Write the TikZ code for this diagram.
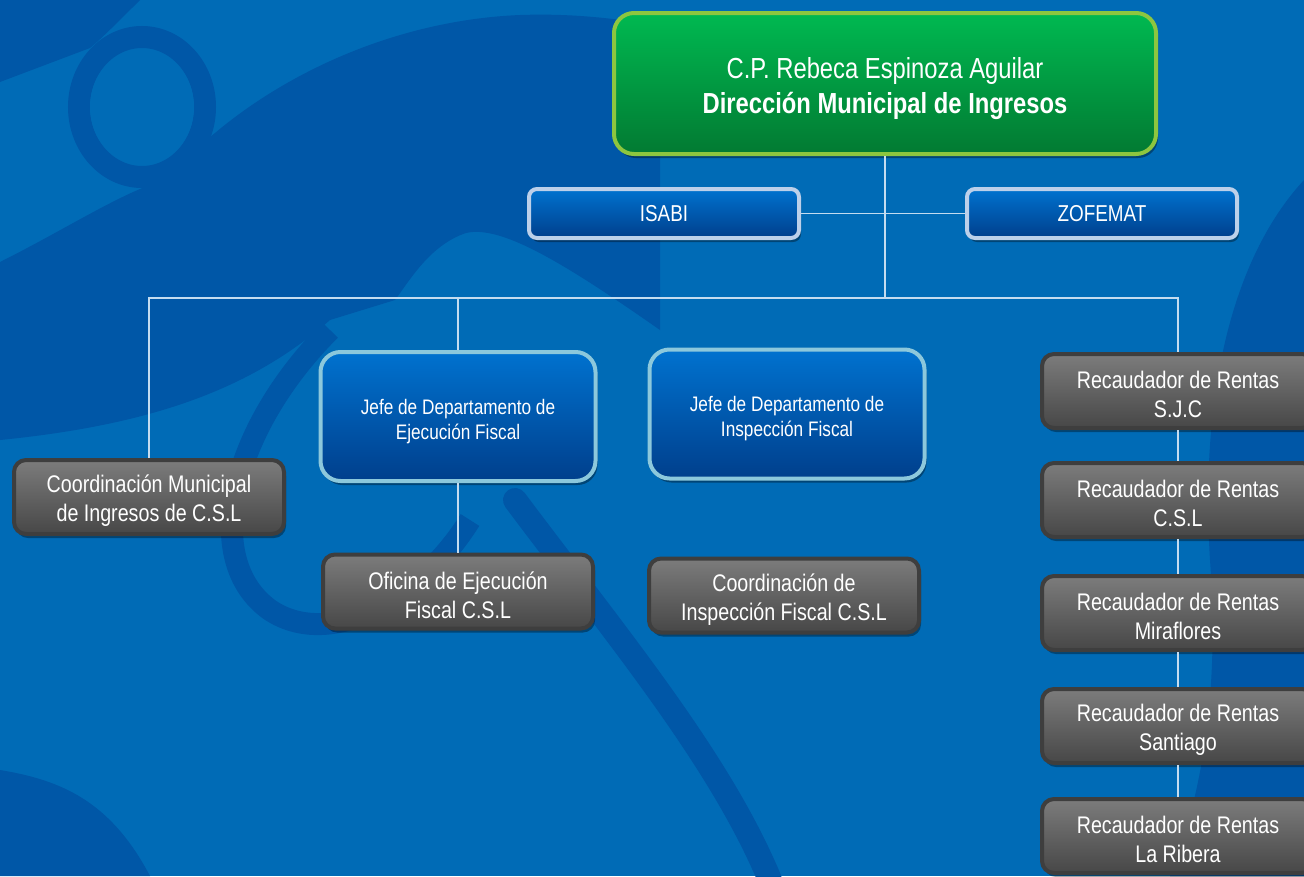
\documentclass[tikz,border=0pt]{standalone}
\usepackage{fontspec}
\setmainfont{Liberation Sans}[FakeStretch=0.82]
\usetikzlibrary{positioning}
\usetikzlibrary{shadows}

\definecolor{bgDark}{HTML}{0057A7}
\definecolor{bgLight}{HTML}{006BB6}
\definecolor{lineBlue}{HTML}{C4DCF0}
\definecolor{greenTop}{HTML}{00B951}
\definecolor{greenBot}{HTML}{027A32}
\definecolor{limeEdge}{HTML}{8DC63F}
\definecolor{blueTop}{HTML}{0072CF}
\definecolor{blueBot}{HTML}{003F8C}
\definecolor{staffEdge}{HTML}{BCD0EA}
\definecolor{jefeEdge}{HTML}{8CC8DC}
\definecolor{grayTop}{HTML}{7C7C7C}
\definecolor{grayBot}{HTML}{474747}
\definecolor{grayEdge}{HTML}{3E3E3E}

\tikzset{
  boxshadow/.style={drop shadow={shadow xshift=2pt, shadow yshift=-4pt, opacity=0.35, fill=black}},
  dirbox/.style={draw=limeEdge, line width=4pt, rounded corners=20pt,
    top color=greenTop, bottom color=greenBot, boxshadow,
    minimum width=542pt, minimum height=141pt, text=white, align=center,
    text height=66pt, font=\fontsize{29}{35}\selectfont},
  staffbox/.style={draw=staffEdge, line width=4pt, rounded corners=8pt,
    top color=blueTop, bottom color=blueBot, boxshadow,
    minimum width=270pt, minimum height=49pt, text=white, align=center,
    font=\fontsize{23}{28}\selectfont},
  jefebox/.style={draw=jefeEdge, line width=4pt, rounded corners=20pt,
    top color=blueTop, bottom color=blueBot, boxshadow,
    minimum width=275pt, minimum height=129pt, text=white, align=center,
    text height=50pt, font=\fontsize{21}{25}\selectfont},
  unitbox/.style={draw=grayEdge, line width=4pt, rounded corners=12pt,
    top color=grayTop, bottom color=grayBot, boxshadow,
    minimum width=270pt, minimum height=74pt, text=white, align=center,
    text height=54pt, font=\fontsize{24}{29}\selectfont},
  conn/.style={draw=lineBlue, line width=1.5pt}
}

\begin{document}
\begin{tikzpicture}[x=1pt,y=-1pt]
\path[use as bounding box] (0,0) rectangle (1304,876);
\clip (0,0) rectangle (1304,876);

% background watermark
\fill[bgLight] (0,0) rectangle (1304,876);
\fill[bgDark] (0,0) -- (140,0) .. controls (120,20) and (100,40) .. (90,48) -- (0,82) -- cycle;
\fill[bgDark] (0,262) .. controls (60,232) and (110,200) .. (150,185) -- (215,133)
  .. controls (290,70) and (400,20) .. (520,15) .. controls (580,13) and (620,20) .. (660,25)
  -- (660,330) .. controls (560,260) and (500,225) .. (466,233)
  .. controls (430,245) and (410,280) .. (395,300) -- (330,320)
  .. controls (250,390) and (150,425) .. (0,440) -- cycle;
\draw[bgDark, line width=22pt] (142,107) ellipse [x radius=63, y radius=70];
\fill[bgLight] (142,107) ellipse [x radius=52, y radius=58];
\draw[bgDark, line width=24pt, line cap=round] (515,500) .. controls (620,640) and (720,760) .. (770,880);
\draw[bgDark, line width=22pt] (330,330) .. controls (230,430) and (200,560) .. (270,610)
  .. controls (330,650) and (420,600) .. (470,520);
\fill[bgDark] (1304,180) .. controls (1230,260) and (1200,400) .. (1210,560)
  .. controls (1220,700) and (1200,800) .. (1170,876) -- (1304,876) -- cycle;
\fill[bgDark] (0,770) .. controls (60,780) and (110,800) .. (150,876) -- (0,876) -- cycle;

% boxes
\node[dirbox] (dir) at (885,83.5) {C.P. Rebeca Espinoza Aguilar\\\textbf{Dirección Municipal de Ingresos}};
\node[staffbox] (isabi) at (664,213.5) {ISABI};
\node[staffbox] (zofemat) at (1102,213.5) {ZOFEMAT};
\coordinate (bus) at (885,298);

\node[jefebox] (jefeEje) at (458,416.5) {Jefe de Departamento de\\Ejecución Fiscal};
\node[jefebox] (jefeIns) at (787,414) {Jefe de Departamento de\\Inspección Fiscal};
\node[unitbox] (coordMun) at (149,497) {Coordinación Municipal\\de Ingresos de C.S.L};
\node[unitbox] (ofiEje) at (458,591.5) {Oficina de Ejecución\\Fiscal C.S.L};
\node[unitbox] (coordIns) at (784,595.5) {Coordinación de\\Inspección Fiscal C.S.L};

\foreach \y/\name/\lbl in {391/recSJC/S.J.C, 500/recCSL/C.S.L, 613/recMir/Miraflores, 726/recSan/Santiago, 836/recRib/La Ribera}
  \node[unitbox, minimum width=272pt] (\name) at (1178,\y) {Recaudador de Rentas\\\lbl};

% connectors
\draw[conn] (dir.south) -- (bus);
\draw[conn] (isabi) -- (zofemat);
\draw[conn] (coordMun.north) |- (bus) -| (recSJC.north);
\draw[conn] (jefeEje.north) -- (jefeEje.north |- bus);
\draw[conn] (jefeEje.south) -- (ofiEje.north);
\draw[conn] (recSJC) -- (recCSL);
\draw[conn] (recCSL) -- (recMir);
\draw[conn] (recMir) -- (recSan);
\draw[conn] (recSan) -- (recRib);
\end{tikzpicture}
\end{document}
